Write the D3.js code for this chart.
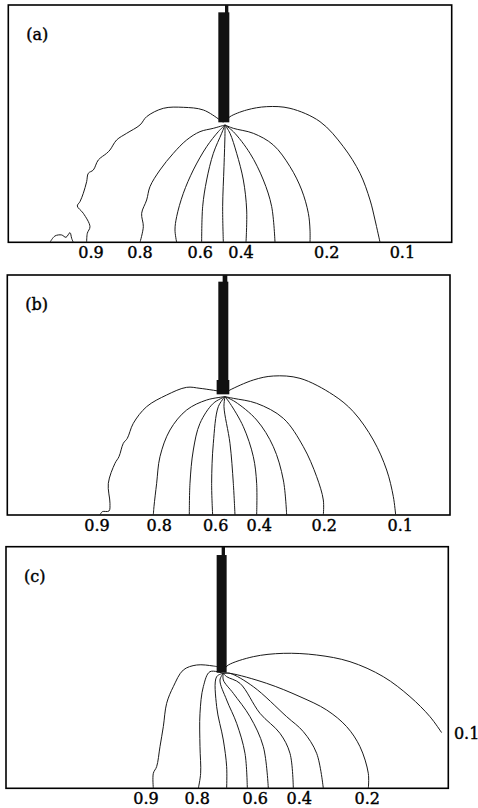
<!DOCTYPE html>
<html>
<head>
<meta charset="utf-8">
<script src="https://cdn.jsdelivr.net/npm/d3@7"></script>
<style>
  body { margin: 0; background: #fff; }
  svg { display: block; }
</style>
</head>
<body>
<svg id="chart"></svg>
<script>
// Field size of each panel (units: cm, horizontal x depth)
const fieldWidth = [13.30, 13.28, 13.27];
const fieldDepth = [7.12, 7.20, 7.25];
const panelNames = ["(a)", "(b)", "(c)"];

// Needle: [x0, x1, depth0, depth1]
const needleA = [[6.50, 6.60, 0.00, 0.25], [6.30, 6.63, 0.22, 3.52]];
const needleB = [[6.46, 6.60, 0.00, 0.22], [6.33, 6.63, 0.20, 3.18], [6.28, 6.66, 3.15, 3.58]];
const needleC = [[6.47, 6.57, 0.00, 0.27], [6.32, 6.62, 0.25, 3.78]];

// Potential contours, points are [x, depth]
const contoursA = [
  { level: 0.9, pts: [[6.45,3.52],[6.35,3.45],[5.85,3.15],[5.25,3.07],[4.65,3.10],[4.15,3.35],[3.95,3.60],[3.55,3.85],[3.25,4.05],[3.05,4.35],[2.95,4.45],[2.70,4.65],[2.55,4.95],[2.40,5.05],[2.35,5.30],[2.25,5.65],[2.15,5.90],[2.07,6.03],[2.25,6.25],[2.45,6.65],[2.37,6.85],[2.35,7.12]] },
  { level: 0.95, pts: [[1.25,7.12],[1.40,6.93],[1.60,6.90],[1.73,6.97],[1.85,6.83],[1.90,7.00],[1.95,7.12]] },
  { level: 0.8, pts: [[6.50,3.60],[6.15,3.70],[5.75,3.80],[5.35,4.05],[4.95,4.45],[4.55,4.95],[4.25,5.45],[4.15,5.85],[4.00,6.25],[4.05,6.65],[3.95,7.12]] },
  { level: 0.7, pts: [[6.50,3.60],[6.30,3.80],[5.95,4.25],[5.55,4.95],[5.25,5.65],[5.05,6.35],[5.00,6.75],[5.05,7.12]] },
  { level: 0.6, pts: [[6.50,3.60],[6.40,3.85],[6.15,4.45],[5.95,5.25],[5.83,6.05],[5.80,7.12]] },
  { level: 0.5, pts: [[6.50,3.60],[6.50,3.85],[6.47,4.85],[6.43,6.05],[6.45,7.12]] },
  { level: 0.4, pts: [[6.50,3.60],[6.65,3.85],[6.85,4.45],[7.05,5.25],[7.15,6.15],[7.13,7.12]] },
  { level: 0.3, pts: [[6.50,3.60],[6.75,3.80],[7.25,4.45],[7.65,5.25],[7.90,6.05],[8.00,7.12]] },
  { level: 0.2, pts: [[6.50,3.60],[6.75,3.70],[7.35,3.85],[7.95,4.20],[8.45,4.85],[8.80,5.55],[9.00,6.25],[9.05,6.75],[9.05,7.12]] },
  { level: 0.1, pts: [[6.55,3.45],[6.65,3.35],[7.15,3.15],[7.75,3.05],[8.45,3.10],[9.35,3.50],[10.05,4.25],[10.55,5.05],[10.85,5.85],[11.00,6.45],[11.15,7.12]] }
];
const contoursB = [
  { level: 0.9, pts: [[6.45,3.50],[5.78,3.40],[5.38,3.37],[4.78,3.60],[4.18,3.95],[3.78,4.45],[3.60,4.90],[3.48,5.05],[3.35,5.45],[3.23,5.65],[3.03,6.25],[3.08,6.85],[3.05,7.08],[2.85,7.10],[2.78,7.20]] },
  { level: 0.8, pts: [[6.53,3.65],[5.98,3.75],[5.38,4.05],[4.88,4.65],[4.58,5.45],[4.48,6.25],[4.40,6.95],[4.38,7.20]] },
  { level: 0.7, pts: [[6.53,3.65],[6.18,3.85],[5.78,4.45],[5.58,5.25],[5.48,6.25],[5.46,7.20]] },
  { level: 0.6, pts: [[6.53,3.65],[6.33,3.95],[6.18,5.05],[6.13,6.25],[6.16,7.20]] },
  { level: 0.5, pts: [[6.53,3.65],[6.50,3.95],[6.68,5.05],[6.78,6.25],[6.83,7.20]] },
  { level: 0.4, pts: [[6.53,3.65],[6.68,3.85],[7.08,4.55],[7.38,5.45],[7.48,6.25],[7.48,7.20]] },
  { level: 0.3, pts: [[6.53,3.65],[6.83,3.80],[7.48,4.35],[7.98,5.15],[8.28,6.15],[8.38,7.20]] },
  { level: 0.2, pts: [[6.53,3.65],[6.78,3.70],[7.48,3.85],[8.28,4.30],[8.88,5.15],[9.28,6.05],[9.48,6.75],[9.48,7.20]] },
  { level: 0.1, pts: [[6.60,3.50],[6.68,3.45],[7.38,3.15],[7.98,3.03],[8.78,3.10],[9.78,3.60],[10.38,4.10],[10.98,4.95],[11.38,5.85],[11.58,6.65],[11.65,7.20]] }
];
const contoursC = [
  { level: 0.9, pts: [[6.42,3.62],[6.22,3.58],[5.72,3.55],[5.32,3.70],[5.02,4.20],[4.82,4.70],[4.72,5.40],[4.62,6.00],[4.52,6.60],[4.42,6.80],[4.42,7.25]] },
  { level: 0.8, pts: [[6.52,3.80],[6.12,3.75],[5.92,4.20],[5.82,5.00],[5.82,6.00],[5.84,6.80],[5.77,7.25]] },
  { level: 0.7, pts: [[6.52,3.80],[6.32,3.90],[6.32,4.80],[6.52,5.80],[6.62,6.60],[6.62,7.25]] },
  { level: 0.6, pts: [[6.52,3.80],[6.42,4.00],[6.62,4.60],[6.92,5.30],[7.17,6.20],[7.24,7.25]] },
  { level: 0.5, pts: [[6.52,3.80],[6.52,4.00],[6.82,4.40],[7.32,5.10],[7.72,6.00],[7.87,7.25]] },
  { level: 0.4, pts: [[6.52,3.80],[6.62,3.90],[7.02,4.10],[7.62,5.00],[8.22,5.60],[8.52,6.20],[8.62,7.25]] },
  { level: 0.3, pts: [[6.52,3.80],[6.72,3.80],[7.42,4.20],[8.42,5.10],[8.92,5.55],[9.32,6.20],[9.52,7.25]] },
  { level: 0.2, pts: [[6.52,3.80],[6.72,3.80],[7.82,4.10],[8.82,4.50],[9.62,4.90],[10.22,5.40],[10.62,6.00],[10.87,6.80],[10.87,7.25]] },
  { level: 0.1, pts: [[6.57,3.65],[6.67,3.55],[7.42,3.30],[8.32,3.20],[9.32,3.25],[10.32,3.45],[11.32,3.90],[12.12,4.50],[12.72,5.10],[13.07,5.58]] }
];

// Contour labels: [value, x] (placed under the bottom edge), side labels carry a depth
const labelsA = [[0.9, 2.48], [0.8, 3.95], [0.6, 5.76], [0.4, 6.98], [0.2, 9.55], [0.1, 11.82]];
const labelsB = [[0.9, 2.69], [0.8, 4.56], [0.6, 6.25], [0.4, 7.56], [0.2, 9.51], [0.1, 11.79]];
const labelsC = [[0.9, 4.20], [0.8, 5.74], [0.6, 7.48], [0.4, 8.80], [0.2, 10.84], [0.1, 13.82, 5.60]];

const W = 478, H = 808;
// pixel boxes of the three panels
const boxes = [
  { left: 8.3, right: 451.7, top: 5, bottom: 242.3 },
  { left: 7.3, right: 450, top: 275, bottom: 515 },
  { left: 6, right: 448.3, top: 546.7, bottom: 788.3 }
];

const panels = [
  { needle: needleA, contours: contoursA, labels: labelsA },
  { needle: needleB, contours: contoursB, labels: labelsB },
  { needle: needleC, contours: contoursC, labels: labelsC }
];

const svg = d3.select("#chart")
    .attr("width", W)
    .attr("height", H);

panels.forEach((p, i) => {
  const b = boxes[i];
  const x = d3.scaleLinear().domain([0, fieldWidth[i]]).range([b.left, b.right]);
  const y = d3.scaleLinear().domain([0, fieldDepth[i]]).range([b.top, b.bottom]);

  const g = svg.append("g");

  // frame
  g.append("rect")
      .attr("x", x(0))
      .attr("y", y(0))
      .attr("width", x(fieldWidth[i]) - x(0))
      .attr("height", y(fieldDepth[i]) - y(0))
      .attr("fill", "none")
      .attr("stroke", "#000")
      .attr("stroke-width", 1.6);

  // contours
  const line = d3.line()
      .x(d => x(d[0]))
      .y(d => y(d[1]))
      .curve(d3.curveCatmullRom.alpha(0.5));

  g.selectAll("path.contour")
    .data(p.contours)
    .join("path")
      .attr("class", "contour")
      .attr("d", d => line(d.pts))
      .attr("fill", "none")
      .attr("stroke", "#1a1a1a")
      .attr("stroke-width", 1);

  // needle
  g.selectAll("rect.needle")
    .data(p.needle)
    .join("rect")
      .attr("class", "needle")
      .attr("x", d => x(d[0]))
      .attr("y", d => y(d[2]))
      .attr("width", d => x(d[1]) - x(d[0]))
      .attr("height", d => y(d[3]) - y(d[2]))
      .attr("fill", "#111");

  // contour values
  g.selectAll("text.lab")
    .data(p.labels)
    .join("text")
      .attr("class", "lab")
      .attr("x", d => x(d[1]))
      .attr("y", d => d.length > 2 ? y(d[2]) : b.bottom + 16)
      .attr("dy", d => d.length > 2 ? "0.35em" : 0)
      .attr("text-anchor", "middle")
      .attr("font-family", "DejaVu Serif, serif")
      .attr("font-size", 16)
      .attr("fill", "#000")
      .attr("stroke", "#000")
      .attr("stroke-width", 0.4)
      .text(d => d3.format(".1f")(d[0]));

  // panel letter
  g.append("text")
      .attr("x", b.left + 18)
      .attr("y", b.top + 35)
      .attr("font-family", "DejaVu Serif, serif")
      .attr("font-size", 16)
      .attr("stroke", "#000")
      .attr("stroke-width", 0.4)
      .text(panelNames[i]);
});
</script>
</body>
</html>
